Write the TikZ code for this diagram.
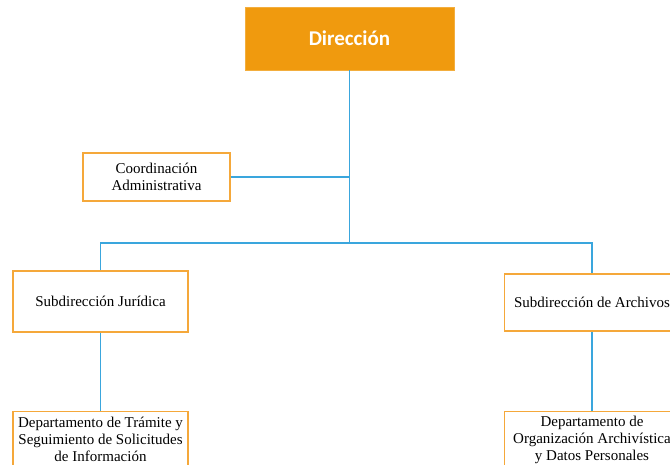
\documentclass[tikz,border=0pt]{standalone}
\usepackage{fontspec}
\setmainfont{Liberation Serif}
\newfontfamily\headfont{Carlito}
\definecolor{dirorange}{HTML}{F09A0E}
\definecolor{boxorange}{HTML}{F5A83A}
\definecolor{lineblue}{HTML}{3AA6DD}
\begin{document}
\begin{tikzpicture}[x=1pt,y=-1pt,
  unitbox/.style={draw=boxorange,line width=1.4pt,fill=white,minimum width=175pt,align=center,inner sep=1pt,font=\fontsize{15}{17}\selectfont},
  link/.style={draw=lineblue,line width=1.2pt}]
\useasboundingbox (0,0) rectangle (670,465);
\clip (0,0) rectangle (670,465);
\node[fill=dirorange,draw=dirorange!80!white,minimum width=209pt,minimum height=63pt,text=white,font=\headfont\bfseries\fontsize{21}{23}\selectfont] (dir) at (349.5,38.5) {Dirección};
\node[unitbox,minimum width=147pt,minimum height=48pt] (coord) at (156.5,177) {Coordinación\\Administrativa};
\node[unitbox,minimum height=61pt] (sj) at (100.5,301.5) {Subdirección Jurídica};
\node[unitbox,minimum height=57pt] (sa) at (592,302.5) {Subdirección de Archivos};
\node[unitbox,minimum height=56pt,anchor=north] (dj) at (100.5,411) {Departamento de Trámite y\\Seguimiento de Solicitudes\\de Información};
\node[unitbox,minimum height=56pt,anchor=north] (da) at (592,411) {Departamento de\\Organización Archivística\\y Datos Personales};
\coordinate (hub) at (349.5,243);
\path[link] (dir.south) -- (hub);
\path[link] (coord.east) -- (coord.east -| hub);
\path[link] (sj.north) |- (hub) -| (sa.north);
\path[link] (sj.south) -- (dj.north);
\path[link] (sa.south) -- (da.north);
\end{tikzpicture}
\end{document}
